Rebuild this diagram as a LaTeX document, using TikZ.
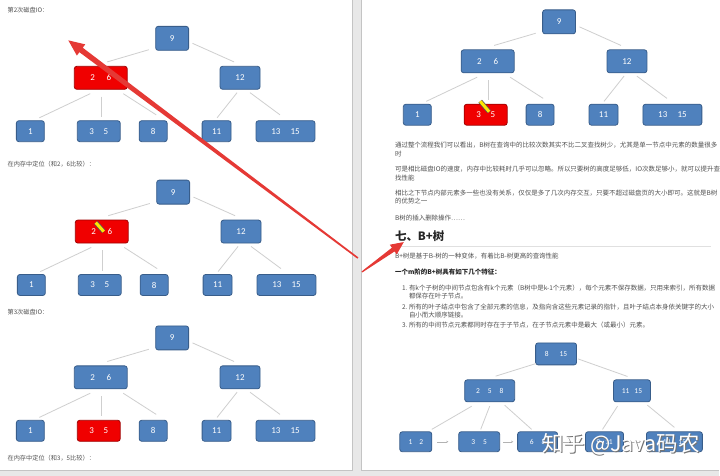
\documentclass[tikz,border=0pt]{standalone}
\usepackage{fontspec}
\setmainfont{Carlito}
\newfontfamily\cjk{Noto Sans CJK SC}
\usetikzlibrary{arrows.meta}
\definecolor{nodeblue}{HTML}{4F81BD}
\definecolor{nodeborder}{HTML}{385D8A}
\definecolor{nodered}{HTML}{F00000}
\definecolor{redborder}{HTML}{A00000}
\definecolor{edgegray}{HTML}{CFCFCF}
\definecolor{txt}{HTML}{505050}
\definecolor{arrowred}{HTML}{E53935}
\definecolor{pagegray}{HTML}{E8E8E8}
\definecolor{pageline}{HTML}{C4C4C4}
\tikzset{
  bnode/.style={draw=nodeborder, fill=nodeblue, line width=0.8pt, rounded corners=2.5pt,
    text=white, font=\fontsize{9}{9}\selectfont, inner sep=0pt, minimum height=23pt},
  rnode/.style={bnode, draw=redborder, fill=nodered},
  snode/.style={bnode, font=\fontsize{7.5}{7.5}\selectfont, minimum height=22pt},
  sleaf/.style={snode, minimum height=20pt},
  edge/.style={draw=edgegray, line width=0.8pt},
  chain/.style={draw=black!30, line width=0.5pt, -{Stealth[length=2pt,width=2pt]}},
  tx/.style={anchor=west, inner sep=0pt, text=txt, font=\cjk\fontsize{6.5}{6.5}\selectfont},
  ltx/.style={anchor=west, inner sep=0pt, text=txt, font=\cjk\fontsize{6.2}{6.2}\selectfont},
  pencil/.style={line width=4.6pt, draw=black!65},
  pencilin/.style={line width=3pt, draw=yellow!90!orange},
  redarrow/.style={fill=arrowred, draw=none}
}
\newcommand\mytree[5]{%
\begin{scope}[shift={(#2,#3)}]
  \node[bnode, minimum width=33pt, minimum height=24pt] (#1-9) at (172,38) {9};
  \node[#4, minimum width=53pt] (#1-26) at (100.5,77.5) {2\hspace{11.8pt}6};
  \node[bnode, minimum width=40pt] (#1-12) at (240,77.5) {12};
  \node[bnode, minimum width=28pt, minimum height=21pt] (#1-l1) at (30,131) {1};
  \node[#5, minimum width=43pt, minimum height=21pt] (#1-l35) at (98.5,131) {3\hspace{9.7pt}5};
  \node[bnode, minimum width=28pt, minimum height=21pt] (#1-l8) at (153,131) {8};
  \node[bnode, minimum width=29pt, minimum height=21pt] (#1-l11) at (216.5,131) {11};
  \node[bnode, minimum width=59pt, minimum height=21pt] (#1-l1315) at (285.5,131) {13\hspace{10.2pt}15};
  \draw[edge] ([shift={(-6.5,-1)}]#1-9.south west) -- ([shift={(6.5,-4)}]#1-26.north);
  \draw[edge] ([shift={(3.5,5)}]#1-9.east) -- ([shift={(-6,-4)}]#1-12.north);
  \draw[edge] ([shift={(-10.5,4)}]#1-26.south) -- ([shift={(9,-2.5)}]#1-l1.north);
  \draw[edge] ([shift={(0.5,7)}]#1-26.south) -- ([shift={(2.5,-3.5)}]#1-l35.north);
  \draw[edge] ([shift={(22.5,4)}]#1-26.south) -- ([shift={(3,-5.5)}]#1-l8.north);
  \draw[edge] ([shift={(-3,3)}]#1-12.south) -- ([shift={(0.5,-2.5)}]#1-l11.north);
  \draw[edge] ([shift={(10,3)}]#1-12.south) -- ([shift={(-5.5,-5.5)}]#1-l1315.north);
\end{scope}}
\begin{document}
\begin{tikzpicture}[x=1pt,y=-1pt]
  % pages
  \fill[pagegray] (0,0) rectangle (720,476);
  \fill[white] (0,0) rectangle (353,471);
  \fill[white] (362,0) rectangle (720,471);
  \draw[pageline, line width=0.8pt] (353,0) -- (353,471) -- (0,471);
  \draw[pageline, line width=0.8pt] (362,0) -- (362,471) -- (720,471);

  % left page
  \node[ltx] (t1) at (7,10) {第2次磁盘IO：};
  \mytree{a}{0}{0}{rnode}{bnode}
  \node[ltx] (t2) at (7,164) {在内存中定位（和2，6比较）：};
  \mytree{b}{1}{154}{rnode}{bnode}
  \draw[pencil] (95.5,222.5) -- (103.5,231.5);
  \draw[pencilin] (95.5,222.5) -- (103.5,231.5);
  \node[ltx] (t3) at (7,312) {第3次磁盘IO：};
  \mytree{c}{0}{300}{bnode}{rnode}
  \node[ltx] (t4) at (7,458) {在内存中定位（和3，5比较）：};

  % right page
  \mytree{d}{387.5}{-16.5}{bnode}{rnode}
  \draw[pencil] (480.5,101) -- (489.5,111.5);
  \draw[pencilin] (480.5,101) -- (489.5,111.5);

  \node[tx] (p1a) at (395,145) {通过整个流程我们可以看出，B树在查询中的比较次数其实不比二叉查找树少，尤其是单一节点中元素的数量很多};
  \node[tx] (p1b) at (395,154) {时};
  \node[tx] (p2a) at (395,169) {可是相比磁盘IO的速度，内存中比较耗时几乎可以忽略。所以只要树的高度足够低，IO次数足够小，就可以提升查};
  \node[tx] (p2b) at (395,178) {找性能};
  \node[tx] (p3a) at (395,193) {相比之下节点内部元素多一些也没有关系，仅仅是多了几次内存交互，只要不超过磁盘页的大小即可。这就是B树};
  \node[tx] (p3b) at (395,201) {的优势之一};
  \node[tx] (p4) at (395,218) {B树的插入删除操作……};
  \node[tx, text=black!85, font=\cjk\bfseries\fontsize{11.5}{11.5}\selectfont] (h7) at (395,236) {七、B+树};
  \draw[black!12, line width=0.7pt] (395,246) -- (712,246);
  \node[tx] (p5) at (395,256) {B+树是基于B-树的一种变体，有着比B-树更高的查询性能};
  \node[tx, text=black!85, font=\cjk\bfseries\fontsize{6.5}{6.5}\selectfont] (p6) at (395,272) {一个m阶的B+树具有如下几个特征：};
  \node[tx] (n1) at (402,288) {1.};
  \node[tx] (i1a) at (409,288) {有k个子树的中间节点包含有k个元素（B树中是k-1个元素），每个元素不保存数据，只用来索引，所有数据};
  \node[tx] (i1b) at (409,296) {都保存在叶子节点。};
  \node[tx] (n2) at (402,307) {2.};
  \node[tx] (i2a) at (409,307) {所有的叶子结点中包含了全部元素的信息，及指向含这些元素记录的指针，且叶子结点本身依关键字的大小};
  \node[tx] (i2b) at (409,315) {自小而大顺序链接。};
  \node[tx] (n3) at (402,325) {3.};
  \node[tx] (i3) at (409,325) {所有的中间节点元素都同时存在于子节点，在子节点元素中是最大（或最小）元素。};

  % B+ tree
  \node[snode, minimum width=41pt] (r) at (556.5,354) {8\hspace{11pt}15};
  \node[snode, minimum width=50pt] (m1) at (490,391) {2\hspace{8pt}5\hspace{8pt}8};
  \node[snode, minimum width=37pt] (m2) at (632.5,391) {11\hspace{5pt}15};
  \node[sleaf, minimum width=32pt] (k1) at (416,442) {1\hspace{7pt}2};
  \node[sleaf, minimum width=41pt] (k2) at (479.5,442) {3\hspace{8pt}5};
  \node[sleaf, minimum width=40pt] (k3) at (538,442) {6\hspace{8pt}8};
  \node[sleaf, minimum width=38pt] (k4) at (605,442) {9\hspace{5pt}11};
  \node[sleaf, minimum width=56pt] (k5) at (675,442) {13\hspace{8pt}15};
  \draw[edge] ([shift={(0.7,-1.7)}]r.south west) -- ([shift={(6,-3.3)}]m1.north);
  \draw[edge] ([shift={(1,5)}]r.east) -- ([shift={(-4.5,-3)}]m2.north);
  \draw[edge] ([shift={(-18,4)}]m1.south) -- ([shift={(16,-2)}]k1.north);
  \draw[edge] ([shift={(0,4)}]m1.south) -- ([shift={(1.5,-2)}]k2.north);
  \draw[edge] ([shift={(15,3)}]m1.south) -- ([shift={(-6,-2)}]k3.north);
  \draw[edge] ([shift={(-14.5,4)}]m2.south) -- ([shift={(-2,-2)}]k4.north);
  \draw[edge] ([shift={(15.5,3)}]m2.south) -- ([shift={(0,-4)}]k5.north);
  \draw[chain, shorten <=5pt, shorten >=10pt] (k1) -- (k2);
  \draw[chain, shorten <=3pt, shorten >=4pt] (k2) -- (k3);
  \draw[chain, shorten <=5pt, shorten >=5pt] (k3) -- (k4);
  \draw[chain, shorten <=5pt, shorten >=5pt] (k4) -- (k5);

  % watermark
  \node[font=\cjk\fontsize{21.5}{21.5}\selectfont, text=black!55, inner sep=0pt] (wms) at (622.3,445.8) {知乎 @Java码农};
  \node[font=\cjk\fontsize{21.5}{21.5}\selectfont, text=white, inner sep=0pt] (wm) at (621.5,445) {知乎 @Java码农};

  % red annotation arrows
  \coordinate (bigtip) at (68,40);
  \coordinate (smalltip) at (404,242);
  \fill[redarrow] (bigtip) -- (84.99,44.03) -- (82.46,47.38) -- (358.48,257.36)
     -- (357.52,258.64) -- (79.10,51.86) -- (76.57,55.21) -- cycle;
  \fill[redarrow] (smalltip) -- (389.93,244.67) -- (392.08,247.68) -- (361.65,271.51)
     -- (362.35,272.49) -- (394.76,251.42) -- (396.91,254.43) -- cycle;
\end{tikzpicture}
\end{document}
